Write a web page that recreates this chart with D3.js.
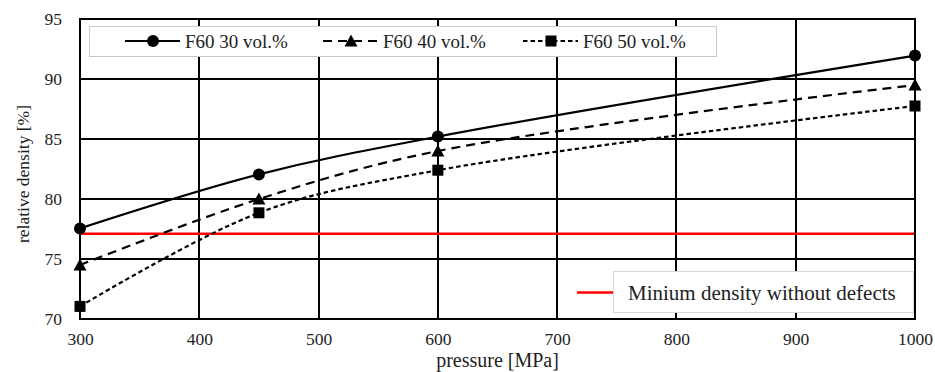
<!DOCTYPE html>
<html>
<head>
<meta charset="utf-8">
<script src="https://cdn.jsdelivr.net/npm/d3@7/dist/d3.min.js"></script>
<style>
  body { margin: 0; background: #fff; }
  svg { display: block; font-family: 'Liberation Serif', 'Times New Roman', serif; }
  .grid line { stroke: #000; stroke-width: 2; shape-rendering: crispEdges; }
  .axis path.domain { display: none; }
  .axis text { font-size: 17.5px; fill: #222; font-family: 'Liberation Serif', serif; }
</style>
</head>
<body>
<svg id="chart" width="935" height="372"></svg>
<script>
// data
const pressures = [300, 450, 600, 1000];
const f60_30 = [77.55, 82.05, 85.2, 91.95];
const f60_40 = [74.5, 80.0, 84.0, 89.5];
const f60_50 = [71.05, 78.85, 82.4, 87.75];
const minDensityX = [300, 1000];
const minDensity = [77.1, 77.1];

const xTicks = [300, 400, 500, 600, 700, 800, 900, 1000];
const yTicks = [70, 75, 80, 85, 90, 95];

const seriesNames = ['F60 30 vol.%', 'F60 40 vol.%', 'F60 50 vol.%'];
const series = [
  { name: seriesNames[0], values: f60_30, dash: null, marker: 'circle' },
  { name: seriesNames[1], values: f60_40, dash: '9,6', marker: 'triangle' },
  { name: seriesNames[2], values: f60_50, dash: '4.5,3', marker: 'square' }
];

const svg = d3.select('#chart');
const margin = { left: 80, right: 20, top: 19, bottom: 53 };
const W = 935, H = 372;

const x = d3.scaleLinear().domain([300, 1000]).range([margin.left, W - margin.right]);
const y = d3.scaleLinear().domain([70, 95]).range([H - margin.bottom, margin.top]);

// grid
const grid = svg.append('g').attr('class', 'grid');
grid.selectAll('line.v').data(xTicks).enter().append('line')
  .attr('x1', d => x(d)).attr('x2', d => x(d))
  .attr('y1', y(95)).attr('y2', y(70));
grid.selectAll('line.h').data(yTicks).enter().append('line')
  .attr('x1', x(300)).attr('x2', x(1000))
  .attr('y1', d => y(d)).attr('y2', d => y(d));

// axes labels
svg.append('g').attr('class', 'axis')
  .attr('transform', 'translate(0,' + y(70) + ')')
  .call(d3.axisBottom(x).tickValues(xTicks).tickSize(0).tickPadding(14).tickFormat(d3.format('d')));
svg.append('g').attr('class', 'axis')
  .attr('transform', 'translate(' + x(300) + ',0)')
  .call(d3.axisLeft(y).tickValues(yTicks).tickSize(0).tickPadding(18));

svg.append('text')
  .attr('x', (x(300) + x(1000)) / 2).attr('y', 367)
  .attr('text-anchor', 'middle').attr('font-size', '20px').attr('fill', '#222')
  .text('pressure [MPa]');
svg.append('text')
  .attr('transform', 'translate(29,174) rotate(-90)')
  .attr('text-anchor', 'middle').attr('font-size', '17.5px').attr('fill', '#222')
  .text('relative density [%]');

// red line
const straight = d3.line().x(d => x(d[0])).y(d => y(d[1]));
svg.append('path')
  .datum(d3.zip(minDensityX, minDensity))
  .attr('d', straight)
  .attr('fill', 'none').attr('stroke', '#ff0000').attr('stroke-width', 2.5);

// series
const smooth = d3.line().x(d => x(d[0])).y(d => y(d[1])).curve(d3.curveCatmullRom.alpha(0.5));

function drawMarker(g, type, cx, cy) {
  if (type === 'circle') {
    g.append('circle').attr('cx', cx).attr('cy', cy).attr('r', 6).attr('fill', '#000');
  } else if (type === 'triangle') {
    g.append('path').attr('d', `M${cx},${cy - 6.5}L${cx + 6.5},${cy + 5.5}L${cx - 6.5},${cy + 5.5}Z`).attr('fill', '#000');
  } else {
    g.append('rect').attr('x', cx - 5.5).attr('y', cy - 5.5).attr('width', 11).attr('height', 11).attr('fill', '#000');
  }
}

series.forEach(s => {
  const pts = d3.zip(pressures, s.values);
  svg.append('path')
    .datum(pts)
    .attr('d', smooth)
    .attr('fill', 'none').attr('stroke', '#000').attr('stroke-width', 2.2)
    .attr('stroke-dasharray', s.dash);
  const mg = svg.append('g');
  pts.forEach(p => drawMarker(mg, s.marker, x(p[0]), y(p[1])));
});

// top legend
const leg = svg.append('g');
leg.append('rect').attr('x', 89.5).attr('y', 26.5).attr('width', 627).attr('height', 30)
  .attr('fill', '#fff').attr('stroke', '#c8c8c8').attr('stroke-width', 1);
const legX = [125, 323, 523];
series.forEach((s, i) => {
  const x0 = legX[i];
  leg.append('line').attr('x1', x0).attr('x2', x0 + 55).attr('y1', 41).attr('y2', 41)
    .attr('stroke', '#000').attr('stroke-width', 2.2).attr('stroke-dasharray', s.dash);
  drawMarker(leg, s.marker, x0 + 28, 41);
  leg.append('text').attr('x', x0 + 60).attr('y', 47.5)
    .attr('font-size', '19px').attr('fill', '#222').text(s.name);
});

// bottom legend
const leg2 = svg.append('g');
leg2.append('line').attr('x1', 577).attr('x2', 613).attr('y1', 292.5).attr('y2', 292.5)
  .attr('stroke', '#ff0000').attr('stroke-width', 2.5);
leg2.append('rect').attr('x', 613.5).attr('y', 271.5).attr('width', 300).attr('height', 41)
  .attr('fill', '#fff').attr('stroke', '#d8d8d8').attr('stroke-width', 1);
leg2.append('text').attr('x', 628).attr('y', 300)
  .attr('font-size', '21px').attr('fill', '#222').text('Minium density without defects');

// plot border
svg.append('rect')
  .attr('x', x(300)).attr('y', y(95))
  .attr('width', x(1000) - x(300)).attr('height', y(70) - y(95))
  .attr('fill', 'none').attr('stroke', '#000').attr('stroke-width', 2);
</script>
</body>
</html>
